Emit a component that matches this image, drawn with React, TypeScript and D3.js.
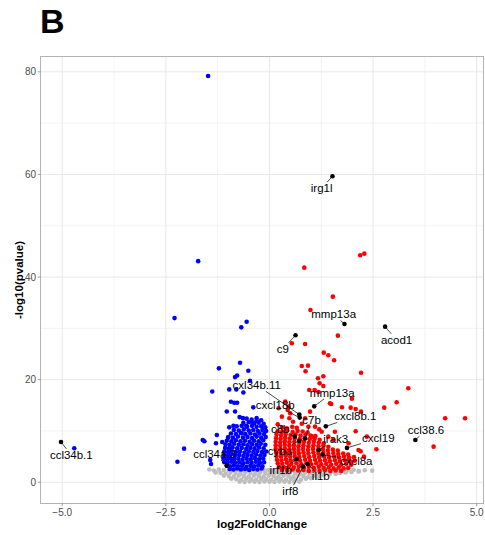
import React, { useEffect, useRef } from 'react';
import * as d3 from 'd3';

const W = 485;
const H = 535;

// axis ticks
const xTicks = [-5, -2.5, 0, 2.5, 5];
const xTickLabels = ['\u22125.0', '\u22122.5', '0.0', '2.5', '5.0'];
const xMinor = [-3.75, -1.25, 1.25, 3.75];
const yTicks = [0, 20, 40, 60, 80];
const yTickLabels = ['0', '20', '40', '60', '80'];
const yMinor = [10, 30, 50, 70];

// non-significant genes (grey)
const greyPoints: [number, number][] = [
  [-1.45, 2.5], [-1.34, 2.3], [-1.22, 2.5], [-1.1, 2.4], [-0.98, 2.3], [-0.86, 2.5], [-0.74, 2.4], [-0.62, 2.3],
  [-0.5, 2.5], [-0.38, 2.4], [-0.26, 2.3], [-0.14, 2.5], [-0.03, 2.4], [0.08, 2.3], [0.2, 2.5], [0.32, 2.4],
  [0.44, 2.3], [0.56, 2.5], [0.68, 2.4], [0.8, 2.3], [0.92, 2.5], [1.04, 2.4], [1.16, 2.3], [1.28, 2.5],
  [1.4, 2.4], [1.52, 2.3], [1.64, 2.5], [1.76, 2.4], [1.88, 2.3], [2.03, 2.4], [2.16, 2.2], [2.3, 2.35], [2.48, 2.26],
  [-1.3, 1.9], [-1.18, 1.8], [-1.06, 1.7], [-0.94, 1.9], [-0.82, 1.8], [-0.7, 1.7], [-0.58, 1.9], [-0.46, 1.8],
  [-0.34, 1.7], [-0.22, 1.9], [-0.1, 1.8], [0.02, 1.7], [0.14, 1.9], [0.26, 1.8], [0.38, 1.7], [0.5, 1.9],
  [0.62, 1.8], [0.74, 1.7], [0.86, 1.9], [0.98, 1.8], [1.1, 1.7], [1.22, 1.9], [1.34, 1.8], [1.46, 1.7],
  [1.58, 1.9], [1.7, 1.8], [1.84, 1.9], [1.98, 2.0], [2.15, 2.1],
  [-1.1, 1.3], [-0.98, 1.2], [-0.86, 1.1], [-0.74, 1.3], [-0.62, 1.2], [-0.5, 1.1], [-0.38, 1.3], [-0.26, 1.2],
  [-0.14, 1.1], [-0.02, 1.3], [0.1, 1.2], [0.22, 1.1], [0.34, 1.3], [0.46, 1.2], [0.58, 1.1], [0.7, 1.3],
  [0.82, 1.2], [0.94, 1.1], [1.06, 1.3], [1.18, 1.2], [1.3, 1.4], [1.44, 1.5], [1.6, 1.6],
  [-0.92, 0.7], [-0.8, 0.6], [-0.68, 0.5], [-0.56, 0.7], [-0.44, 0.6], [-0.32, 0.5], [-0.2, 0.7], [-0.08, 0.6],
  [0.04, 0.5], [0.16, 0.7], [0.28, 0.6], [0.4, 0.5], [0.52, 0.7], [0.64, 0.6], [0.76, 0.5], [0.88, 0.7],
  [1.0, 0.8], [1.15, 0.9],
  [-0.72, 0.1], [-0.6, 0.05], [-0.48, 0.15], [-0.36, 0.1], [-0.24, 0.05], [-0.12, 0.15], [0.0, 0.1], [0.12, 0.05],
  [0.24, 0.15], [0.36, 0.1], [0.48, 0.05], [0.6, 0.15], [0.72, 0.1],
];

// down-regulated genes, dense core (blue)
const blueDense: [number, number][] = [
  [-0.55, 12.4], [-0.43, 12.2], [-0.31, 12.5], [-0.2, 12.1],
  [-0.63, 11.6], [-0.5, 11.7], [-0.37, 11.5], [-0.26, 11.6], [-0.14, 11.4],
  [-0.79, 10.9], [-0.67, 11.0], [-0.54, 10.8], [-0.42, 11.0], [-0.31, 10.8], [-0.2, 10.9], [-0.1, 10.7],
  [-0.86, 10.2], [-0.74, 10.1], [-0.62, 10.3], [-0.5, 10.1], [-0.39, 10.2], [-0.28, 10.0], [-0.17, 10.2], [-0.08, 10.0],
  [-0.93, 9.5], [-0.81, 9.4], [-0.69, 9.6], [-0.58, 9.4], [-0.46, 9.5], [-0.35, 9.3], [-0.24, 9.5], [-0.13, 9.4],
  [-0.99, 8.8], [-0.88, 8.7], [-0.76, 8.9], [-0.64, 8.7], [-0.53, 8.8], [-0.42, 8.6], [-0.31, 8.9], [-0.2, 8.7], [-0.09, 8.8],
  [-1.03, 8.1], [-0.92, 8.0], [-0.81, 8.2], [-0.7, 8.0], [-0.59, 8.1], [-0.48, 7.9], [-0.37, 8.1], [-0.26, 8.0], [-0.15, 8.2],
  [-1.06, 7.4], [-0.96, 7.3], [-0.85, 7.5], [-0.74, 7.3], [-0.63, 7.4], [-0.53, 7.2], [-0.42, 7.4], [-0.31, 7.3], [-0.21, 7.5], [-0.1, 7.3],
  [-1.07, 6.7], [-0.98, 6.6], [-0.89, 6.8], [-0.78, 6.6], [-0.67, 6.7], [-0.56, 6.5], [-0.46, 6.7], [-0.36, 6.6], [-0.25, 6.8], [-0.14, 6.6],
  [-1.09, 6.0], [-1.0, 5.9], [-0.91, 6.1], [-0.81, 5.9], [-0.71, 6.0], [-0.6, 5.8], [-0.5, 6.0], [-0.39, 5.9], [-0.29, 6.1], [-0.18, 5.9], [-0.08, 6.0],
  [-1.1, 5.3], [-1.01, 5.2], [-0.93, 5.4], [-0.83, 5.2], [-0.73, 5.3], [-0.63, 5.1], [-0.53, 5.3], [-0.43, 5.2], [-0.32, 5.4], [-0.22, 5.2], [-0.12, 5.3],
  [-1.11, 4.6], [-1.02, 4.5], [-0.94, 4.7], [-0.85, 4.5], [-0.75, 4.6], [-0.65, 4.4], [-0.55, 4.6], [-0.45, 4.5], [-0.35, 4.7], [-0.25, 4.5], [-0.15, 4.6],
  [-1.09, 3.9], [-1.01, 3.8], [-0.92, 4.0], [-0.83, 3.8], [-0.73, 3.9], [-0.63, 3.7], [-0.53, 3.9], [-0.43, 3.8], [-0.33, 4.0], [-0.23, 3.8], [-0.13, 3.9],
  [-1.03, 3.2], [-0.95, 3.1], [-0.86, 3.3], [-0.76, 3.1], [-0.66, 3.2], [-0.56, 3.0], [-0.46, 3.2], [-0.37, 3.1], [-0.27, 3.3], [-0.17, 3.1],
  [-0.96, 2.6], [-0.87, 2.5], [-0.78, 2.7], [-0.69, 2.5], [-0.59, 2.6], [-0.49, 2.4], [-0.39, 2.6], [-0.29, 2.5], [-0.19, 2.7],
];

// down-regulated genes, scattered (blue)
const blueSparse: [number, number][] = [
  [-1.48, 79.2], [-1.72, 43.1], [-2.29, 32.0], [-0.55, 31.3], [-0.68, 30.2], [-0.71, 23.3], [-1.22, 22.2],
  [-0.51, 21.75], [-0.78, 20.8], [-0.47, 19.8], [-0.83, 20.5], [-1.38, 17.7], [-0.8, 18.1], [-0.97, 18.1],
  [-0.63, 17.5], [-0.93, 15.7], [-0.85, 15.5], [-0.78, 15.5], [-0.39, 14.6], [-1.03, 13.8], [-0.83, 13.8],
  [-0.72, 12.7], [-0.64, 12.5], [-0.97, 10.7], [-0.87, 11.0], [-0.43, 11.8], [-0.31, 12.0], [-0.56, 11.0],
  [-1.27, 9.2], [-1.61, 8.25], [-1.57, 8.0], [-1.29, 7.6], [-1.14, 7.85], [-1.0, 8.7], [-0.67, 9.55],
  [-2.06, 6.55], [-2.22, 4.0], [-1.43, 4.35], [-1.41, 3.57], [-4.71, 6.63],
];

// up-regulated genes, dense core (red)
const redDense: [number, number][] = [
  [0.3, 10.7], [0.42, 10.5], [0.55, 10.8], [0.66, 10.6],
  [0.2, 10.0], [0.31, 9.9], [0.43, 10.1], [0.56, 9.8], [0.68, 10.0], [0.8, 9.9], [0.92, 9.7],
  [0.17, 9.3], [0.28, 9.2], [0.39, 9.4], [0.51, 9.2], [0.63, 9.3], [0.75, 9.1], [0.87, 9.3], [0.99, 9.1], [1.11, 9.0],
  [0.16, 8.6], [0.27, 8.5], [0.38, 8.7], [0.49, 8.5], [0.61, 8.6], [0.73, 8.4], [0.85, 8.6], [0.97, 8.4], [1.09, 8.5], [1.21, 8.3],
  [0.15, 7.9], [0.26, 7.8], [0.37, 8.0], [0.48, 7.8], [0.6, 7.9], [0.72, 7.7], [0.83, 7.9], [0.95, 7.7], [1.07, 7.9], [1.19, 7.7], [1.31, 7.6],
  [0.15, 7.2], [0.26, 7.1], [0.37, 7.3], [0.48, 7.1], [0.59, 7.2], [0.7, 7.0], [0.82, 7.2], [0.94, 7.0], [1.06, 7.2], [1.18, 7.0], [1.3, 7.1], [1.42, 6.9],
  [0.15, 6.5], [0.26, 6.4], [0.37, 6.6], [0.48, 6.4], [0.59, 6.5], [0.7, 6.3], [0.81, 6.5], [0.93, 6.3], [1.05, 6.5], [1.17, 6.3], [1.29, 6.4], [1.41, 6.2], [1.53, 6.4], [1.65, 6.2],
  [0.16, 5.8], [0.27, 5.7], [0.38, 5.9], [0.49, 5.7], [0.6, 5.8], [0.71, 5.6], [0.82, 5.8], [0.94, 5.6], [1.06, 5.8], [1.18, 5.6], [1.3, 5.7], [1.42, 5.5], [1.54, 5.7], [1.66, 5.5], [1.78, 5.6], [1.9, 5.4],
  [0.17, 5.1], [0.28, 5.0], [0.39, 5.2], [0.5, 5.0], [0.61, 5.1], [0.72, 4.9], [0.84, 5.1], [0.96, 4.9], [1.08, 5.1], [1.2, 4.9], [1.32, 5.0], [1.44, 4.8], [1.56, 5.0], [1.68, 4.8], [1.8, 5.0], [1.92, 4.8], [2.04, 4.9],
  [0.18, 4.4], [0.29, 4.3], [0.4, 4.5], [0.51, 4.3], [0.62, 4.4], [0.74, 4.2], [0.86, 4.4], [0.98, 4.2], [1.1, 4.4], [1.22, 4.2], [1.34, 4.3], [1.46, 4.1], [1.58, 4.3], [1.7, 4.1], [1.82, 4.3], [1.94, 4.1], [2.06, 4.2],
  [0.2, 3.7], [0.31, 3.6], [0.42, 3.8], [0.53, 3.6], [0.65, 3.7], [0.77, 3.5], [0.89, 3.7], [1.01, 3.5], [1.13, 3.7], [1.25, 3.5], [1.37, 3.6], [1.49, 3.4], [1.61, 3.6], [1.73, 3.4], [1.85, 3.6], [1.97, 3.4],
  [0.23, 3.0], [0.35, 2.9], [0.47, 3.1], [0.59, 2.9], [0.71, 3.0], [0.83, 2.8], [0.95, 3.0], [1.07, 2.8], [1.19, 3.0], [1.31, 2.8], [1.43, 2.9], [1.55, 2.7], [1.67, 2.9], [1.79, 2.7], [1.9, 2.8],
  [0.3, 2.4], [0.43, 2.3], [0.56, 2.5], [0.69, 2.3], [0.82, 2.4], [0.95, 2.2], [1.08, 2.4], [1.21, 2.2], [1.34, 2.4], [1.47, 2.2], [1.6, 2.3], [1.73, 2.2],
];

// up-regulated genes, scattered (red)
const redSparse: [number, number][] = [
  [2.19, 44.25], [2.29, 44.56], [0.84, 41.83], [1.53, 36.18], [0.99, 33.59], [1.65, 28.58], [0.86, 26.96],
  [0.54, 27.1], [1.31, 25.26], [1.42, 24.76], [1.56, 23.78], [0.78, 22.67], [0.93, 22.73], [0.87, 21.64],
  [2.21, 21.36], [1.17, 20.27], [1.3, 20.66], [1.21, 19.3], [1.3, 18.77], [0.96, 17.99], [1.09, 17.99],
  [1.18, 17.6], [1.99, 16.3], [1.49, 15.26], [1.96, 14.54], [2.08, 14.29], [3.35, 18.32], [3.07, 15.59],
  [2.77, 14.54], [4.24, 12.48], [4.72, 12.48], [3.96, 6.94], [2.58, 6.43], [2.2, 6.04], [2.28, 4.99],
  [2.08, 9.94], [2.21, 13.76], [1.46, 15.4], [1.75, 14.62], [0.38, 15.71], [0.46, 14.74], [0.22, 14.43],
  [0.5, 13.45], [0.3, 12.79], [0.86, 12.48], [0.98, 13.76], [1.1, 10.84], [1.26, 9.86], [1.42, 8.89],
  [1.54, 8.25], [1.58, 9.86], [1.91, 7.6], [2.15, 6.3], [2.35, 8.89], [0.44, 14.09], [0.48, 12.48],
  [0.57, 11.81], [0.94, 10.84], [1.04, 8.89], [0.2, 11.3], [0.78, 11.4], [1.2, 10.3],
];

// labelled genes
const labelledGenes = [
  'irg1l', 'mmp13a', 'acod1', 'c9', 'cxl34b.11', 'cxcl18b', 'mmp13a', 'cxcl8b.1', 'c7b', 'c8b',
  'cyba', 'irak3', 'cxcl19', 'cxcl8a', 'irf1b', 'il1b', 'irf8', 'ccl38.6', 'ccl34b.1', 'ccl34a.3',
];
const labelledLog2FC = [
  1.52, 1.81, 2.79, 0.63, 0.72, 0.73, 1.08, 1.36, 0.86, 0.61,
  0.72, 1.19, 1.87, 1.28, 0.66, 0.92, 0.81, 3.52, -5.03, -1.03,
];
const labelledLogP = [
  59.65, 30.86, 30.33, 28.65, 13.2, 12.6, 14.8, 10.9, 8.54, 8.9,
  8.1, 6.3, 6.7, 5.4, 4.54, 3.57, 3.05, 8.25, 7.85, 3.25,
];

// repel-style label offsets (layout, pixels)
const labelOffsets: [number, number][] = [
  [-10.8, 12.2], [-10.8, -9.5], [11.5, 13.3], [-12.8, 13.7], [-42.5, -29.5], [-24.5, -12.5], [18, -13.5],
  [29.5, -10], [6.5, -18], [-14.5, -8], [-19.3, 9.8], [17, -10.5], [31.3, -9.5], [33.7, 6], [-16, 11.5],
  [13.2, 12.5], [-12.7, 24.8], [10.7, -10], [10.3, 13], [-12.2, -11.7],
];

export default function App() {
  const ref = useRef<SVGSVGElement>(null);

  useEffect(() => {
    const svg = d3.select(ref.current);
    svg.selectAll('*').remove();

    const left = 40.7, right = 483.3, top = 56.7, bottom = 503.3;
    const x = d3.scaleLinear().domain([-5.52, 5.16]).range([left, right]);
    const y = d3.scaleLinear().domain([-4.1, 82.95]).range([bottom, top]);
    const font = "'Liberation Sans', Arial, Helvetica, sans-serif";
    const r = 2.3;

    svg.append('rect').attr('width', W).attr('height', H).attr('fill', '#fff');

    // panel letter
    svg.append('text').attr('x', 40).attr('y', 33)
      .attr('font-family', font)
      .attr('font-weight', 700).attr('font-size', 34).attr('fill', '#000').text('B');

    const g = svg.append('g');

    // grid
    g.selectAll('.xminor').data(xMinor).join('line')
      .attr('x1', (d) => x(d)).attr('x2', (d) => x(d)).attr('y1', top).attr('y2', bottom)
      .attr('stroke', '#f0f0f0').attr('stroke-width', 0.8);
    g.selectAll('.yminor').data(yMinor).join('line')
      .attr('y1', (d) => y(d)).attr('y2', (d) => y(d)).attr('x1', left).attr('x2', right)
      .attr('stroke', '#f0f0f0').attr('stroke-width', 0.8);
    g.selectAll('.xmajor').data(xTicks).join('line')
      .attr('x1', (d) => x(d)).attr('x2', (d) => x(d)).attr('y1', top).attr('y2', bottom)
      .attr('stroke', '#e8e8e8').attr('stroke-width', 1);
    g.selectAll('.ymajor').data(yTicks).join('line')
      .attr('y1', (d) => y(d)).attr('y2', (d) => y(d)).attr('x1', left).attr('x2', right)
      .attr('stroke', '#e8e8e8').attr('stroke-width', 1);

    const drawPts = (data: [number, number][], color: string) => {
      g.append('g').selectAll('circle').data(data).join('circle')
        .attr('cx', (d) => x(d[0])).attr('cy', (d) => y(d[1])).attr('r', r).attr('fill', color);
    };
    drawPts(greyPoints, '#bebebe');
    drawPts(blueDense, '#0000ff');
    drawPts(redDense, '#ff0000');
    drawPts(blueSparse, '#0000ff');
    drawPts(redSparse, '#ff0000');

    // labels
    const labelled = labelledGenes.map((name, i) => ({
      name, fc: labelledLog2FC[i], lp: labelledLogP[i], off: labelOffsets[i],
    }));
    const fs = 11.5;
    const segG = g.append('g');
    const ptG = g.append('g');
    const txtG = g.append('g');
    labelled.forEach((d) => {
      const px = x(d.fc), py = y(d.lp);
      const cx = px + d.off[0], cy = py + d.off[1];
      const t = txtG.append('text').attr('x', cx).attr('y', cy).attr('dy', '0.35em')
        .attr('text-anchor', 'middle').attr('font-family', font).attr('font-size', fs)
        .attr('fill', '#000').text(d.name);
      const tw = (t.node() as SVGTextElement).getComputedTextLength();
      const hw = tw / 2 + 1, hh = fs * 0.45 + 1;
      const dx = cx - px, dy = cy - py;
      const tEdge = Math.min(dx === 0 ? Infinity : hw / Math.abs(dx), dy === 0 ? Infinity : hh / Math.abs(dy));
      if (tEdge < 1) {
        const ex = cx - tEdge * dx, ey = cy - tEdge * dy;
        segG.append('line').attr('x1', px).attr('y1', py).attr('x2', ex).attr('y2', ey)
          .attr('stroke', '#000').attr('stroke-width', 0.7);
      }
      ptG.append('circle').attr('cx', px).attr('cy', py).attr('r', r).attr('fill', '#000');
    });

    // panel border
    svg.append('rect').attr('x', 40.5).attr('y', 56.5).attr('width', 443).attr('height', 447)
      .attr('fill', 'none').attr('stroke', '#b3b3b3').attr('stroke-width', 1);

    // axes ticks
    const tickColor = '#4d4d4d';
    svg.append('g').selectAll('line').data(yTicks).join('line')
      .attr('x1', 37.7).attr('x2', 40.5).attr('y1', (d) => y(d)).attr('y2', (d) => y(d))
      .attr('stroke', '#8a8a8a').attr('stroke-width', 0.8);
    svg.append('g').selectAll('text').data(yTicks).join('text')
      .attr('x', 36).attr('y', (d) => y(d)).attr('dy', '0.35em').attr('text-anchor', 'end')
      .attr('font-family', font).attr('font-size', 10).attr('fill', tickColor)
      .text((d, i) => yTickLabels[i]);
    svg.append('g').selectAll('line').data(xTicks).join('line')
      .attr('y1', 503.5).attr('y2', 506.3).attr('x1', (d) => x(d)).attr('x2', (d) => x(d))
      .attr('stroke', '#8a8a8a').attr('stroke-width', 0.8);
    svg.append('g').selectAll('text').data(xTicks).join('text')
      .attr('x', (d) => x(d)).attr('y', 512).attr('dy', '0.35em').attr('text-anchor', 'middle')
      .attr('font-family', font).attr('font-size', 10).attr('fill', tickColor)
      .text((d, i) => xTickLabels[i]);

    // axis titles
    svg.append('text').attr('x', (left + right) / 2).attr('y', 523.5).attr('dy', '0.35em')
      .attr('text-anchor', 'middle').attr('font-family', font).attr('font-weight', 700)
      .attr('font-size', 11.5).attr('fill', '#000').text('log2FoldChange');
    svg.append('text').attr('transform', `translate(19,${(top + bottom) / 2}) rotate(-90)`)
      .attr('dy', '0.35em').attr('text-anchor', 'middle').attr('font-family', font)
      .attr('font-weight', 700).attr('font-size', 11.5).attr('fill', '#000').text('-log10(pvalue)');
  }, []);

  return (
    <svg ref={ref} width={W} height={H} style={{ position: 'absolute', left: 0, top: 0, display: 'block' }} />
  );
}
